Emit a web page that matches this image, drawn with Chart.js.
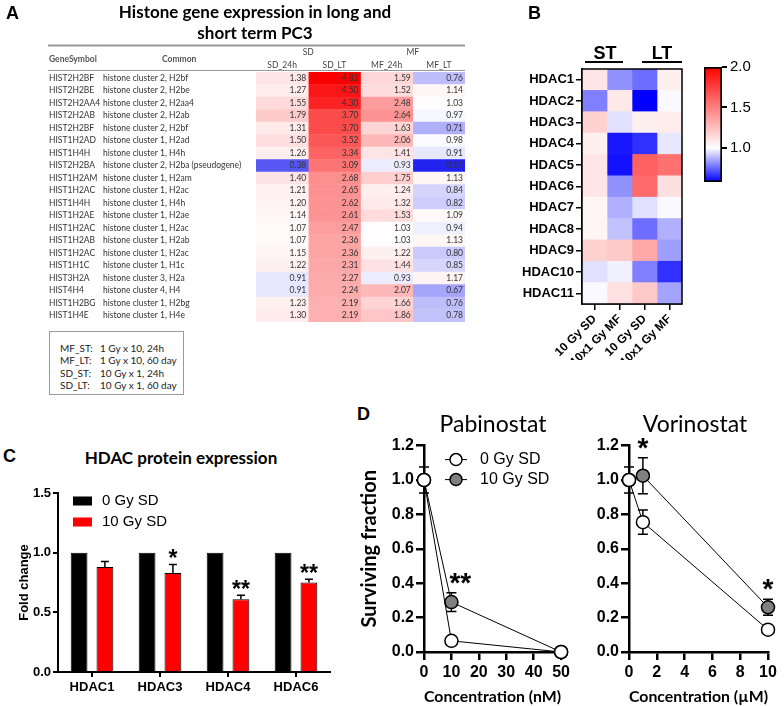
<!DOCTYPE html>
<html>
<head>
<meta charset="utf-8">
<script src="https://cdn.jsdelivr.net/npm/chart.js@4.4.0/dist/chart.umd.min.js"></script>
<style>
  body { margin: 0; background: #fff; }
  #page { position: relative; width: 784px; height: 706px; overflow: hidden; }
  canvas, .txt { position: absolute; }
  .letter { font: bold 18px 'Liberation Sans', Arial, sans-serif; line-height: 20px; }
  .ttl { font-family: Lato, sans-serif; text-align: center; color: #000; }
  .box { left: 49px; top: 331px; width: 135px; height: 64px; border: 1px solid #999;
         font: 10px Lato, sans-serif; color: #222; box-sizing: border-box; padding: 10px 0 0 10px; line-height: 12.3px; }
  .box span { display: inline-block; width: 40px; }
</style>
</head>
<body>
<div id="page">
  <canvas id="cA" width="470" height="330" style="left:0;top:0"></canvas>
  <canvas id="cB" width="200" height="320" style="left:500px;top:40px"></canvas>
  <canvas id="cBar" width="94" height="140" style="left:690px;top:55px"></canvas>
  <canvas id="cC" width="340" height="226" style="left:0;top:480px"></canvas>
  <canvas id="cPab" width="215" height="272" style="left:358px;top:434px"></canvas>
  <canvas id="cVor" width="209" height="272" style="left:575px;top:434px"></canvas>

  <div class="txt letter" style="left:6px;top:3px">A</div>
  <div class="txt ttl" style="left:100px;top:1px;width:310px;font-weight:bold;font-size:17px;line-height:21px">Histone gene expression in long and<br>short term PC3</div>
  <div class="txt box">
    <div><span>MF_ST:</span>1 Gy x 10, 24h</div>
    <div><span>MF_LT:</span>1 Gy x 10, 60 day</div>
    <div><span>SD_ST:</span>10 Gy x 1, 24h</div>
    <div><span>SD_LT:</span>10 Gy x 1, 60 day</div>
  </div>
  <div class="txt letter" style="left:528px;top:3px">B</div>
  <div class="txt letter" style="left:3px;top:446px">C</div>
  <div class="txt ttl" style="left:41px;top:447px;width:280px;font-weight:bold;font-size:17px;line-height:22px">HDAC protein expression</div>
  <div class="txt letter" style="left:357px;top:404px">D</div>
  <div class="txt ttl" style="left:413px;top:410px;width:160px;font-size:23px;line-height:26px">Pabinostat</div>
  <div class="txt ttl" style="left:615px;top:410px;width:160px;font-size:23px;line-height:26px">Vorinostat</div>
</div>
<script>
// ---------- A: histone table ----------
const geneSymbols = ['HIST2H2BF', 'HIST2H2BE', 'HIST2H2AA4', 'HIST2H2AB', 'HIST2H2BF', 'HIST1H2AD', 'HIST1H4H',
  'HIST2H2BA', 'HIST1H2AM', 'HIST1H2AC', 'HIST1H4H', 'HIST1H2AE', 'HIST1H2AC', 'HIST1H2AB', 'HIST1H2AC',
  'HIST1H1C', 'HIST3H2A', 'HIST4H4', 'HIST1H2BG', 'HIST1H4E']
const geneNames = ['histone cluster 2, H2bf', 'histone cluster 2, H2be', 'histone cluster 2, H2aa4', 'histone cluster 2, H2ab',
  'histone cluster 2, H2bf', 'histone cluster 1, H2ad', 'histone cluster 1, H4h', 'histone cluster 2, H2ba (pseudogene)',
  'histone cluster 1, H2am', 'histone cluster 1, H2ac', 'histone cluster 1, H4h', 'histone cluster 1, H2ae',
  'histone cluster 1, H2ac', 'histone cluster 1, H2ab', 'histone cluster 1, H2ac', 'histone cluster 1, H1c',
  'histone cluster 3, H2a', 'histone cluster 4, H4', 'histone cluster 1, H2bg', 'histone cluster 1, H4e']
const sd24h = [1.38, 1.27, 1.55, 1.79, 1.31, 1.50, 1.26, 0.38, 1.40, 1.21, 1.20, 1.14, 1.07, 1.07, 1.15, 1.22, 0.91, 0.91, 1.23, 1.30]
const sdLT = [4.83, 4.50, 4.30, 3.70, 3.70, 3.52, 3.34, 3.09, 2.68, 2.65, 2.62, 2.61, 2.47, 2.36, 2.36, 2.31, 2.27, 2.24, 2.19, 2.19]
const mf24h = [1.59, 1.52, 2.48, 2.64, 1.63, 2.06, 1.41, 0.93, 1.75, 1.24, 1.32, 1.53, 1.03, 1.03, 1.22, 1.44, 0.93, 2.07, 1.66, 1.86]
const mfLT = [0.76, 1.14, 1.03, 0.97, 0.71, 0.98, 0.91, 0.19, 1.13, 0.84, 0.82, 1.09, 0.94, 1.13, 0.80, 0.85, 1.17, 0.67, 0.76, 0.78]
const tableHeaders = ['SD_24h', 'SD_LT', 'MF_24h', 'MF_LT']
const tableGroups = ['SD', 'MF']

// ---------- B: HDAC heatmap ----------
const hdacGenes = ['HDAC1', 'HDAC2', 'HDAC3', 'HDAC4', 'HDAC5', 'HDAC6', 'HDAC7', 'HDAC8', 'HDAC9', 'HDAC10', 'HDAC11']
const hdacConditions = ['10 Gy SD', '10x1 Gy MF', '10 Gy SD', '10x1 Gy MF']
const hdacStSd = [1.10, 0.79, 1.18, 1.06, 1.10, 1.10, 1.04, 1.04, 1.18, 0.95, 0.99]
const hdacStMf = [0.82, 1.09, 0.95, 0.62, 0.61, 0.82, 0.87, 0.90, 1.21, 0.975, 1.12]
const hdacLtSd = [0.76, 0.58, 1.06, 0.66, 1.62, 1.58, 0.95, 0.76, 1.34, 0.79, 1.21]
const hdacLtMf = [1.06, 0.99, 1.07, 0.96, 1.56, 1.12, 0.99, 0.87, 0.84, 0.66, 0.85]
const colorbarTicks = [1.0, 1.5, 2.0]
const colorMin = 0.58, colorMax = 2.0

// ---------- C: protein ----------
const proteinLabels = ['HDAC1', 'HDAC3', 'HDAC4', 'HDAC6']
const fold0Gy = [1, 1, 1, 1]
const fold10Gy = [0.88, 0.83, 0.61, 0.75]
const fold10GyErr = [0.047, 0.07, 0.034, 0.028]
const foldStars = ['', '*', '**', '**']

// ---------- D: survival ----------
const pabConc = [0, 10, 50]
const pab0Gy = [1.0, 0.065, 0.0]
const pab0GyErr = [0.075, 0, 0]
const pab10Gy = [1.0, 0.29, 0.0]
const pab10GyErr = [0, 0.055, 0]
const pabStars = ['', '**', '']
const vorConc = [0, 1, 10]
const vor0Gy = [1.0, 0.755, 0.13]
const vor0GyErr = [0.075, 0.07, 0]
const vor10Gy = [1.0, 1.025, 0.26]
const vor10GyErr = [0, 0.105, 0.047]
const vorStars = ['', '*', '*']

Chart.defaults.animation = false
Chart.defaults.responsive = false
Chart.defaults.color = '#000'
Chart.defaults.font.family = "'Liberation Sans', Arial, sans-serif"
Chart.defaults.plugins.legend.display = false
Chart.defaults.plugins.tooltip.enabled = false

function mix(a, b, t) {
  t = Math.max(0, Math.min(1, t))
  return 'rgb(' + a.map((v, i) => Math.round(v + (b[i] - v) * t)).join(',') + ')'
}
const WHITE = [255, 255, 255]

const tableCols = [sd24h, sdLT, mf24h, mfLT]
const tableMax = Math.max(...tableCols.flat())
const tableMin = Math.min(...tableCols.flat())
function tableColor(v) {
  if (v >= 1) return mix(WHITE, [250, 0, 0], (v - 1) / (tableMax - 1))
  return mix(WHITE, [35, 35, 240], (1 - v) / (1 - tableMin))
}
function hdacColor(v) {
  if (v >= 1) return mix(WHITE, [255, 0, 0], (v - 1) / (colorMax - 1))
  return mix(WHITE, [0, 0, 255], (1 - v) / (1 - colorMin))
}

function drawStar(ctx, text, x, y, size, align) {
  if (!text) return
  ctx.save()
  ctx.fillStyle = '#000'
  ctx.font = 'bold ' + size + "px 'Liberation Sans', Arial"
  ctx.textAlign = align || 'center'
  ctx.textBaseline = 'middle'
  ctx.fillText(text, x, y + size * 0.22)
  ctx.restore()
}

// ----- A -----
const tableText = {
  id: 'tableText',
  afterDatasetsDraw(chart) {
    const { ctx, chartArea: a, scales: { x, y } } = chart
    ctx.save()
    ctx.textBaseline = 'middle'
    ctx.font = '8.5px Lato'
    ctx.fillStyle = '#333'
    geneSymbols.forEach((g, i) => {
      const py = y.getPixelForValue(i)
      ctx.textAlign = 'left'
      ctx.fillText(g, 49, py)
      ctx.fillText(geneNames[i], 103, py)
      ctx.textAlign = 'right'
      tableCols.forEach((col, c) => ctx.fillText(col[i].toFixed(2), x.getPixelForValue(c + 1) - 2, py))
    })
    ctx.fillStyle = '#444'
    ctx.textAlign = 'center'
    tableGroups.forEach((g, k) => ctx.fillText(g, x.getPixelForValue(k * 2 + 1), a.top - 20))
    tableHeaders.forEach((h, c) => ctx.fillText(h, x.getPixelForValue(c + 0.5), a.top - 7))
    ctx.font = 'bold 8.5px Lato'
    ctx.fillStyle = '#555'
    ctx.textAlign = 'left'
    ctx.fillText('GeneSymbol', 49, a.top - 13)
    ctx.fillText('Common', 162, a.top - 13)
    ctx.strokeStyle = '#999'
    ctx.lineWidth = 2
    ctx.beginPath(); ctx.moveTo(48, a.top - 26.5); ctx.lineTo(a.right, a.top - 26.5); ctx.stroke()
    ctx.lineWidth = 1.2
    ctx.beginPath(); ctx.moveTo(48, a.top - 1.5); ctx.lineTo(a.right, a.top - 1.5); ctx.stroke()
    ctx.restore()
  }
}

new Chart(document.getElementById('cA'), {
  type: 'bar',
  data: {
    labels: geneSymbols,
    datasets: tableCols.map((col, c) => ({
      data: col.map(() => [c, c + 1]),
      backgroundColor: col.map(tableColor),
      borderWidth: 0, barPercentage: 1, categoryPercentage: 1, grouped: false
    }))
  },
  options: {
    indexAxis: 'y',
    layout: { padding: { left: 256, right: 5, top: 72, bottom: 8 } },
    scales: { x: { display: false, min: 0, max: 4 }, y: { display: false } }
  },
  plugins: [tableText]
})

// ----- B -----
const heatBox = {
  id: 'heatBox',
  afterDatasetsDraw(chart) {
    const { ctx, chartArea: a, scales: { x } } = chart
    ctx.save()
    ctx.strokeStyle = '#000'
    ctx.lineWidth = 1.5
    ctx.strokeRect(a.left, a.top, a.right - a.left, a.bottom - a.top)
    ctx.font = "bold 18px 'Liberation Sans', Arial"
    ctx.fillStyle = '#000'
    ctx.textAlign = 'center'
    ctx.textBaseline = 'middle'
    ctx.fillText('ST', x.getPixelForValue(0.92), a.top - 15)
    ctx.fillText('LT', x.getPixelForValue(3.2), a.top - 15)
    ctx.lineWidth = 2
    ctx.beginPath()
    ctx.moveTo(x.getPixelForValue(0.12), a.top - 7); ctx.lineTo(x.getPixelForValue(1.64), a.top - 7)
    ctx.moveTo(x.getPixelForValue(2.4), a.top - 7); ctx.lineTo(x.getPixelForValue(4), a.top - 7)
    ctx.stroke()
    ctx.restore()
  }
}

const hdacCols = [hdacStSd, hdacStMf, hdacLtSd, hdacLtMf]
new Chart(document.getElementById('cB'), {
  type: 'bar',
  data: {
    labels: hdacGenes,
    datasets: hdacCols.map((col, c) => ({
      data: col.map(() => [c, c + 1]),
      backgroundColor: col.map(hdacColor),
      borderWidth: 0, barPercentage: 1, categoryPercentage: 1, grouped: false
    }))
  },
  options: {
    indexAxis: 'y',
    layout: { padding: { top: 29, right: 18 } },
    scales: {
      x: {
        min: 0, max: 4,
        afterBuildTicks: s => { s.ticks = hdacConditions.map((_, i) => ({ value: i + 0.5 })) },
        ticks: { callback: (v, i) => hdacConditions[i], minRotation: 45, maxRotation: 45, autoSkip: false,
                 font: { size: 12, weight: 'bold' }, padding: 2 },
        grid: { drawOnChartArea: false, tickLength: 6, tickColor: '#000', lineWidth: 1.5 },
        border: { color: '#000', width: 1.5 },
        afterFit: s => { s.height = 56 }
      },
      y: {
        ticks: { font: { size: 13, weight: 'bold' }, padding: 2 },
        grid: { offset: false, drawOnChartArea: false, tickLength: 6, tickColor: '#000', lineWidth: 1.5 },
        border: { color: '#000', width: 1.5 },
        afterFit: s => { s.width = 82 }
      }
    }
  },
  plugins: [heatBox]
})

// colour bar
new Chart(document.getElementById('cBar'), {
  type: 'bar',
  data: {
    labels: [''],
    datasets: [{
      data: [[colorMin, colorMax]],
      backgroundColor: (c) => {
        const { chart } = c
        if (!chart.chartArea) return '#fff'
        const y = chart.scales.y
        const g = chart.ctx.createLinearGradient(0, y.getPixelForValue(colorMin), 0, y.getPixelForValue(colorMax))
        g.addColorStop(0, '#0000ff')
        g.addColorStop((1 - colorMin) / (colorMax - colorMin), '#ffffff')
        g.addColorStop(1, '#ff0000')
        return g
      },
      borderColor: '#000', borderWidth: 2, borderSkipped: false,
      barPercentage: 1, categoryPercentage: 1
    }]
  },
  options: {
    layout: { padding: { left: 14, top: 12, bottom: 13 } },
    scales: {
      x: { display: false },
      y: {
        position: 'right', min: colorMin, max: colorMax,
        afterBuildTicks: s => { s.ticks = colorbarTicks.map(v => ({ value: v })) },
        ticks: { callback: v => v.toFixed(1), font: { size: 15 }, padding: 3 },
        grid: { drawOnChartArea: false, tickLength: 5, tickColor: '#000', lineWidth: 2 },
        border: { display: false },
        afterFit: s => { s.width = 62 }
      }
    }
  }
})

// ----- C -----
const barExtras = {
  id: 'barExtras',
  afterDatasetsDraw(chart) {
    const { ctx, chartArea: a, scales: { y } } = chart
    ctx.save()
    ctx.strokeStyle = '#000'
    ctx.lineWidth = 1.5
    chart.getDatasetMeta(1).data.forEach((bar, i) => {
      const top = y.getPixelForValue(fold10Gy[i] + fold10GyErr[i])
      ctx.beginPath()
      ctx.moveTo(bar.x, bar.y); ctx.lineTo(bar.x, top)
      ctx.moveTo(bar.x - 4, top); ctx.lineTo(bar.x + 4, top)
      ctx.stroke()
      drawStar(ctx, foldStars[i], bar.x, y.getPixelForValue(fold10Gy[i] + fold10GyErr[i] + 0.08), 23)
    })
    // legend
    ctx.font = "15px 'Liberation Sans', Arial"
    ctx.textBaseline = 'middle'
    ctx.textAlign = 'left'
    chart.data.datasets.forEach((ds, k) => {
      const ly = a.top + 8 + k * 21
      ctx.fillStyle = ds.backgroundColor
      ctx.fillRect(a.left + 15, ly - 4.5, 19, 9)
      ctx.fillStyle = '#000'
      ctx.fillText(ds.label, a.left + 44, ly)
    })
    ctx.restore()
  }
}

new Chart(document.getElementById('cC'), {
  type: 'bar',
  data: {
    labels: proteinLabels,
    datasets: [
      { label: '0 Gy SD', data: fold0Gy, backgroundColor: '#000', borderColor: '#000', borderWidth: 1,
        categoryPercentage: 0.76, barPercentage: 0.65 },
      { label: '10 Gy SD', data: fold10Gy, backgroundColor: '#ff0000', borderColor: '#000', borderWidth: 1,
        categoryPercentage: 0.76, barPercentage: 0.65 }
    ]
  },
  options: {
    layout: { padding: { top: 13, right: 10 } },
    scales: {
      x: {
        ticks: { font: { size: 13, weight: 'bold' }, padding: 3 },
        grid: { offset: false, drawOnChartArea: false, tickLength: 5, tickColor: '#000', lineWidth: 2 },
        border: { color: '#000', width: 2 },
        afterFit: s => { s.height = 34 }
      },
      y: {
        min: 0, max: 1.5,
        ticks: { stepSize: 0.5, callback: v => v.toFixed(1), font: { size: 13, weight: 'bold' }, padding: 2 },
        grid: { drawOnChartArea: false, tickLength: 5, tickColor: '#000', lineWidth: 2 },
        border: { color: '#000', width: 2 },
        title: { display: true, text: 'Fold change', font: { size: 13, weight: 'bold' }, padding: { top: 17, bottom: 0 } },
        afterFit: s => { s.width = 58 }
      }
    }
  },
  plugins: [barExtras]
})

// ----- D -----
function survivalExtras(errs, stars, starAlign, showLegend) {
  return {
    id: 'survivalExtras',
    beforeDatasetsDraw(chart) {
      const { ctx, scales: { y } } = chart
      ctx.save()
      ctx.strokeStyle = '#000'
      ctx.lineWidth = 1.5
      chart.data.datasets.forEach((ds, d) => {
        chart.getDatasetMeta(d).data.forEach((pt, i) => {
          const e = errs[d][i]
          if (!e) return
          const v = ds.data[i].y
          const t = y.getPixelForValue(v + e), b = y.getPixelForValue(v - e)
          ctx.beginPath()
          ctx.moveTo(pt.x, t); ctx.lineTo(pt.x, b)
          ctx.moveTo(pt.x - 5, t); ctx.lineTo(pt.x + 5, t)
          ctx.moveTo(pt.x - 5, b); ctx.lineTo(pt.x + 5, b)
          ctx.stroke()
        })
      })
      ctx.restore()
    },
    afterDatasetsDraw(chart) {
      const { ctx, chartArea: a, scales: { y } } = chart
      const hi = chart.data.datasets[1]
      chart.getDatasetMeta(1).data.forEach((pt, i) => {
        drawStar(ctx, stars[i], pt.x - (starAlign === 'left' ? 2 : 0),
          y.getPixelForValue(hi.data[i].y + errs[1][i] + 0.085), 28, starAlign)
      })
      if (!showLegend) return
      ctx.save()
      ctx.font = "16px 'Liberation Sans', Arial"
      ctx.textBaseline = 'middle'
      chart.data.datasets.forEach((ds, k) => {
        const ly = a.top + 14 + k * 20
        ctx.strokeStyle = '#000'
        ctx.lineWidth = 1
        ctx.beginPath(); ctx.moveTo(a.left + 21, ly); ctx.lineTo(a.left + 43, ly); ctx.stroke()
        ctx.beginPath(); ctx.arc(a.left + 32, ly, 6, 0, Math.PI * 2)
        ctx.fillStyle = ds.pointBackgroundColor
        ctx.fill()
        ctx.lineWidth = 1.5
        ctx.stroke()
        ctx.fillStyle = '#000'
        ctx.fillText(ds.label, a.left + 56, ly)
      })
      ctx.restore()
    }
  }
}

function survivalChart(id, conc, s0, s10, errs, stars, starAlign, xMax, xStep, xTitle, yTitle, yWidth, padRight) {
  const series = (label, vals, fill) => ({
    label, data: conc.map((c, i) => ({ x: c, y: vals[i] })), showLine: true, clip: false,
    borderColor: '#000', borderWidth: 1, pointRadius: 6.5, pointBackgroundColor: fill,
    pointBorderColor: '#000', pointBorderWidth: 1.5
  })
  const axis = {
    grid: { drawOnChartArea: false, tickLength: 8, tickColor: '#000', lineWidth: 2.5 },
    border: { color: '#000', width: 2.5 }
  }
  new Chart(document.getElementById(id), {
    type: 'scatter',
    data: { datasets: [series('0 Gy SD', s0, '#ffffff'), series('10 Gy SD', s10, '#808080')] },
    options: {
      layout: { padding: { top: 10, right: padRight } },
      scales: {
        x: Object.assign({
          min: 0, max: xMax,
          ticks: { stepSize: xStep, font: { size: 16, weight: 'bold' }, padding: 3 },
          title: { display: true, text: xTitle, font: { family: 'Lato', size: 16, weight: 'bold' }, padding: { top: 0, bottom: 0 } },
          afterFit: s => { s.height = 54 }
        }, axis),
        y: Object.assign({
          min: 0, max: 1.2,
          ticks: { stepSize: 0.2, callback: v => v.toFixed(1), font: { size: 16, weight: 'bold' }, padding: 2 },
          title: { display: !!yTitle, text: yTitle, font: { family: 'Lato', size: 20, weight: 'bold' }, padding: { top: 0, bottom: 0 } },
          afterFit: s => { s.width = yWidth }
        }, axis)
      }
    },
    plugins: [survivalExtras(errs, stars, starAlign, !!yTitle)]
  })
}

survivalChart('cPab', pabConc, pab0Gy, pab10Gy, [pab0GyErr, pab10GyErr], pabStars, 'left',
  50, 10, 'Concentration (nM)', 'Surviving fraction', 66, 10)
survivalChart('cVor', vorConc, vor0Gy, vor10Gy, [vor0GyErr, vor10GyErr], vorStars, 'center',
  10, 2, 'Concentration (µM)', '', 54, 16)
</script>
</body>
</html>
